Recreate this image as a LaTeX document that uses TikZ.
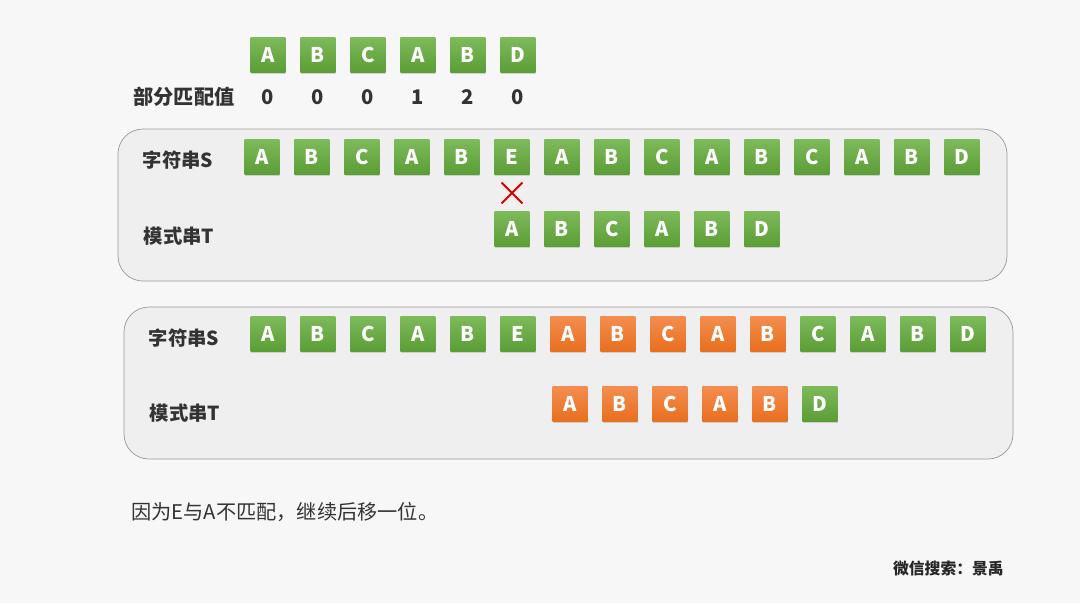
\documentclass[tikz,border=0pt]{standalone}
\usepackage{fontspec}
\setmainfont{Noto Sans CJK SC}
\usetikzlibrary{shapes.misc,shadows}
\definecolor{pagebg}{HTML}{F7F7F7}
\definecolor{panelbg}{HTML}{EFEFEF}
\definecolor{greentop}{HTML}{7DBA5B}
\definecolor{greenbot}{HTML}{5B9D35}
\definecolor{orangetop}{HTML}{F38D50}
\definecolor{orangebot}{HTML}{E86F1D}
\tikzstyle{char} = [rectangle, minimum width=0.7cm, minimum height=0.7cm, inner sep=0pt, text=white, font=\fontsize{11.5}{11.5}\selectfont\bfseries, top color=greentop, bottom color=greenbot, drop shadow={shadow xshift=0.5pt, shadow yshift=-0.8pt, opacity=0.3}]
\tikzstyle{hit} = [char, top color=orangetop, bottom color=orangebot]
\tikzstyle{label} = [font=\fontsize{11}{11}\selectfont\bfseries, text=black!80]
\tikzstyle{value} = [font=\fontsize{11.5}{11.5}\selectfont\bfseries, text=black!80]
\tikzstyle{panel} = [draw=black!40, fill=panelbg, rounded corners=0.5cm]
\tikzstyle{miss} = [cross out, draw=red!85!black, line width=1.1pt, minimum size=0.38cm, inner sep=0pt]

\begin{document}
\begin{tikzpicture}[x=0.02cm, y=-0.02cm, node distance=1cm]
\useasboundingbox[fill=pagebg] (0,0) rectangle (1080,603);

% pattern with its partial match values
\node (P1)[char] at (268,55) {A};
\node (P2)[char, right of=P1]{B};
\node (P3)[char, right of=P2]{C};
\node (P4)[char, right of=P3]{A};
\node (P5)[char, right of=P4]{B};
\node (P6)[char, right of=P5]{D};
\node (Vlab)[label, font=\fontsize{11.5}{11.5}\selectfont\bfseries] at (184,97) {部分匹配值};
\node (V1)[value, below of=P1, node distance=0.84cm]{0};
\node (V2)[value, below of=P2, node distance=0.84cm]{0};
\node (V3)[value, below of=P3, node distance=0.84cm]{0};
\node (V4)[value, below of=P4, node distance=0.84cm]{1};
\node (V5)[value, below of=P5, node distance=0.84cm]{2};
\node (V6)[value, below of=P6, node distance=0.84cm]{0};

% first step
\draw [panel] (118,129) rectangle (1007,281);
\node (SlabA)[label] at (178,160) {字符串S};
\node (TlabA)[label] at (179,236) {模式串T};
\node (SA1)[char] at (262,157) {A};
\node (SA2)[char, right of=SA1]{B};
\node (SA3)[char, right of=SA2]{C};
\node (SA4)[char, right of=SA3]{A};
\node (SA5)[char, right of=SA4]{B};
\node (SA6)[char, right of=SA5]{E};
\node (SA7)[char, right of=SA6]{A};
\node (SA8)[char, right of=SA7]{B};
\node (SA9)[char, right of=SA8]{C};
\node (SA10)[char, right of=SA9]{A};
\node (SA11)[char, right of=SA10]{B};
\node (SA12)[char, right of=SA11]{C};
\node (SA13)[char, right of=SA12]{A};
\node (SA14)[char, right of=SA13]{B};
\node (SA15)[char, right of=SA14]{D};
\node (Miss)[miss] at (512,193) {};
\node (TA1)[char] at (512,229) {A};
\node (TA2)[char, right of=TA1]{B};
\node (TA3)[char, right of=TA2]{C};
\node (TA4)[char, right of=TA3]{A};
\node (TA5)[char, right of=TA4]{B};
\node (TA6)[char, right of=TA5]{D};

% second step
\draw [panel] (124,307) rectangle (1013,459);
\node (SlabB)[label] at (184,338) {字符串S};
\node (TlabB)[label] at (185,413) {模式串T};
\node (SB1)[char] at (268,334) {A};
\node (SB2)[char, right of=SB1]{B};
\node (SB3)[char, right of=SB2]{C};
\node (SB4)[char, right of=SB3]{A};
\node (SB5)[char, right of=SB4]{B};
\node (SB6)[char, right of=SB5]{E};
\node (SB7)[hit, right of=SB6]{A};
\node (SB8)[hit, right of=SB7]{B};
\node (SB9)[hit, right of=SB8]{C};
\node (SB10)[hit, right of=SB9]{A};
\node (SB11)[hit, right of=SB10]{B};
\node (SB12)[char, right of=SB11]{C};
\node (SB13)[char, right of=SB12]{A};
\node (SB14)[char, right of=SB13]{B};
\node (SB15)[char, right of=SB14]{D};
\node (TB1)[hit] at (570,404) {A};
\node (TB2)[hit, right of=TB1]{B};
\node (TB3)[hit, right of=TB2]{C};
\node (TB4)[hit, right of=TB3]{A};
\node (TB5)[hit, right of=TB4]{B};
\node (TB6)[char, right of=TB5]{D};

\node (Note)[anchor=west, font=\fontsize{11.5}{11.5}\selectfont, text=black!80] at (125,512) {因为E与A不匹配，继续后移一位。};
\node (Mark)[anchor=east, font=\fontsize{9}{9}\selectfont\bfseries, text=black!85] at (1010,568) {微信搜索：景禹};
\end{tikzpicture}
\end{document}
